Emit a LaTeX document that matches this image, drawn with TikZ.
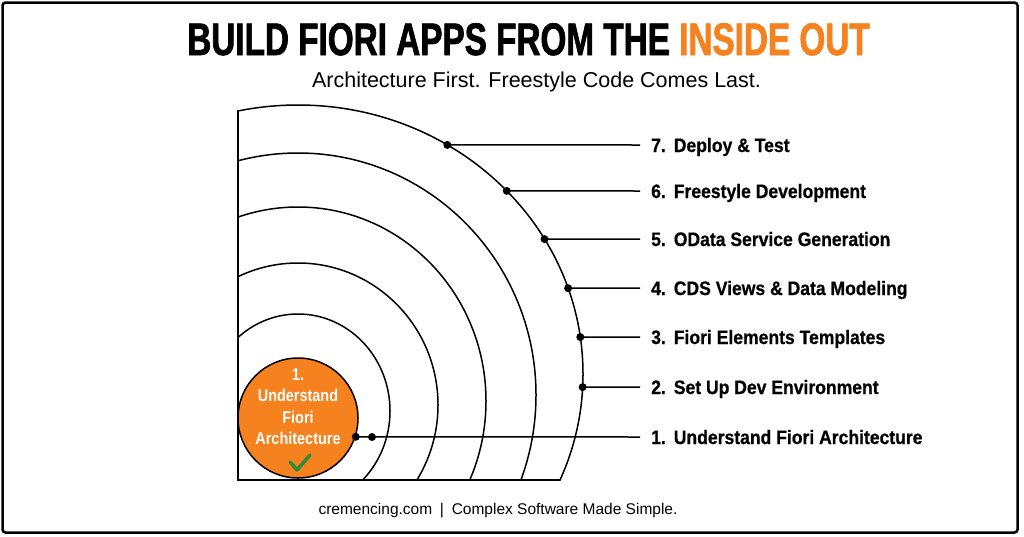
\documentclass[tikz,border=0pt]{standalone}
\usepackage{fontspec}
\setmainfont{Liberation Sans}
\newfontfamily\titlefont[FakeStretch=0.73,FakeBold=1.5]{Liberation Sans}
\newfontfamily\stepfont[FakeStretch=0.9,FakeBold=0.6]{Liberation Sans}
\newfontfamily\corefont[FakeStretch=0.85]{Liberation Sans}
\usetikzlibrary{positioning}
\definecolor{fiorange}{HTML}{F5821F}
\definecolor{checkgreen}{HTML}{2E8B36}

\begin{document}
\begin{tikzpicture}[x=1pt,y=-1pt,
    ring/.style={line width=1.5pt},
    leader/.style={line width=1.5pt},
    steplabel/.style={inner sep=0pt,text height=14pt,text depth=0pt,
      font=\stepfont\bfseries\fontsize{19.5}{22}\selectfont},
    coretext/.style={inner sep=0pt,align=center,text=white,
      font=\corefont\bfseries\fontsize{17}{21.5}\selectfont}]
  \fill[white] (0,0) rectangle (1024,536);
  \useasboundingbox (0,0) rectangle (1024,536);
  \draw[line width=2.5pt,rounded corners=3pt] (2.5,2.5) rectangle (1017.5,532.5);

  % heading
  \node[anchor=base] (title) at (528.5,55)
    {\titlefont\bfseries\fontsize{45.6}{50}\selectfont BUILD FIORI APPS FROM THE \textcolor{fiorange}{INSIDE OUT}};
  \node[anchor=base] (subtitle) at (536.5,87)
    {\fontsize{21.5}{24}\selectfont Architecture First. Freestyle Code Comes Last.};

  % rings
  \begin{scope}
    \clip (238,100) rectangle (700,480);
    \foreach \cy/\a/\b in {411/92/97,405/140/142,401/188/194,395/238/242,374/285/269}
      \draw[ring] (298,\cy) ellipse [x radius=\a,y radius=\b];
  \end{scope}
  \draw[ring] (238,110) -- (238,480) -- (560,480);

  \node[circle,draw,line width=1.5pt,fill=fiorange,minimum size=120pt,inner sep=0pt] (core) at (298,418) {};
  \node[coretext] (corelabel) at (298,406.5) {1.\\Understand\\Fiori\\Architecture};
  \draw[checkgreen,line width=3.5pt,line cap=round,line join=round] (290,462) -- (297,470) -- (310,455);

  % dots on the outer ring
  \foreach \n/\t in {7/-58.4,6/-42.9,5/-30.1,4/-18.6,3/-7.9,2/2.8}
    \coordinate (p\n) at ([shift={(\t:285 and 269)}]298,374);
  \coordinate (p1) at (core.-18.5);
  \coordinate (q1) at (372,437);

  % steps
  \foreach \n/\y/\txt in {7/145/{Deploy \& Test},6/191/{Freestyle Development},
      5/239/{OData Service Generation},4/288/{CDS Views \& Data Modeling},
      3/337/{Fiori Elements Templates},2/387/{Set Up Dev Environment},
      1/437/{Understand Fiori Architecture}} {
    \coordinate (e\n) at (640,\y);
    \node[steplabel,right=11pt of e\n] (l\n) {\n.\hspace{8pt}\txt};
    \draw[leader] (p\n) -- (e\n);
    \fill (p\n) circle (4);
  }
  \fill (q1) circle (4);

  \node[anchor=base] (footer) at (498,514)
    {\fontsize{15.5}{18}\selectfont cremencing.com\enspace|\enspace Complex Software Made Simple.};
\end{tikzpicture}
\end{document}
